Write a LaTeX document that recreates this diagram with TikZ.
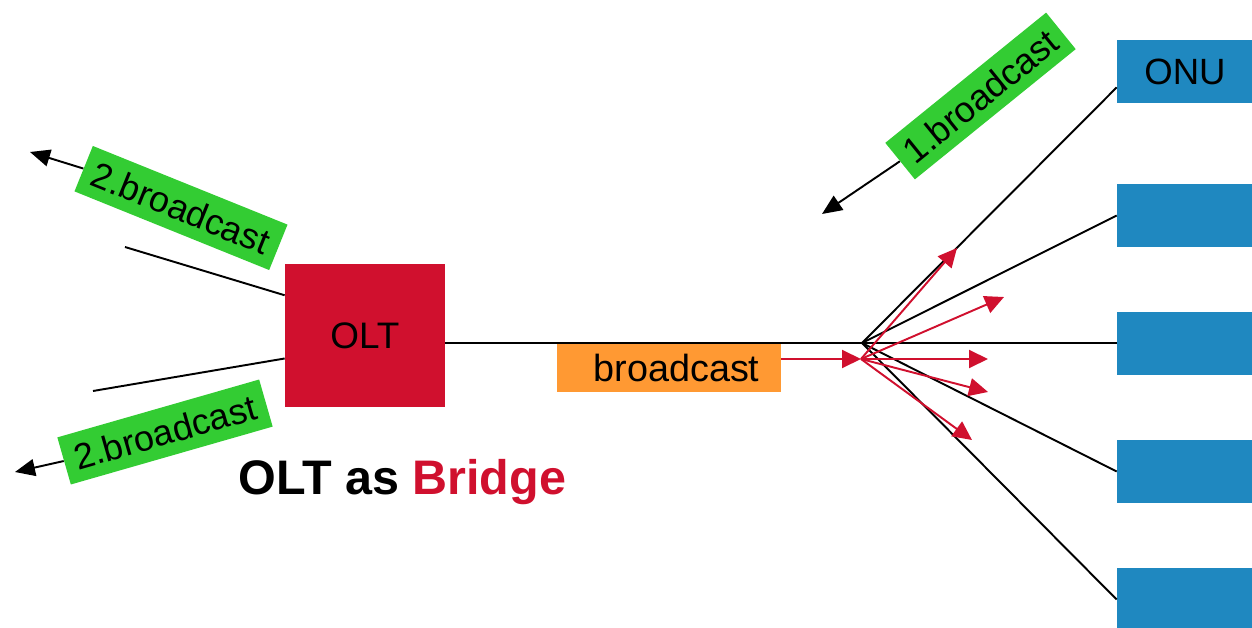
\documentclass[tikz,border=0pt]{standalone}
\usepackage{fontspec}
\setmainfont{Liberation Sans}
\usetikzlibrary{arrows.meta,calc}
\definecolor{oltred}{RGB}{208,16,46}
\definecolor{taggreen}{RGB}{51,204,51}
\definecolor{bcorange}{RGB}{255,153,51}
\definecolor{onublue}{RGB}{31,136,192}
\begin{document}
\begin{tikzpicture}[x=0.02cm,y=-0.02cm,
  wire/.style={line width=1.1pt,black},
  fanarrow/.style={line width=1.1pt,color=oltred,-{Triangle[length=0.38cm,width=0.36cm]}},
  tagarrow/.style={line width=1.1pt,black,-{Triangle[length=0.4cm,width=0.34cm]}},
  tag/.style={fill=taggreen,minimum width=4.2cm,minimum height=0.98cm,inner sep=0pt,
    font=\fontsize{20.5}{24}\selectfont},
  onu/.style={fill=onublue,minimum width=2.72cm,minimum height=1.26cm,inner sep=0pt,
    font=\fontsize{20.8}{24}\selectfont},
]
\useasboundingbox (0,0) rectangle (1252,628);

% ONUs on the right
\node[onu] (onu1) at (1185,71.5) {ONU};
\node[onu] (onu2) at (1185,215.5) {};
\node[onu] (onu3) at (1185,343.5) {};
\node[onu] (onu4) at (1185,471.5) {};
\node[onu] (onu5) at (1185,599.5) {};

% OLT
\node[fill=oltred,minimum width=3.2cm,minimum height=2.86cm,inner sep=0pt,
  font=\fontsize{21}{24}\selectfont] (olt) at (365,335.5) {OLT};

% broadcast frame
\node[fill=bcorange,minimum width=4.48cm,minimum height=0.96cm,inner sep=0pt,
  font=\fontsize{21.5}{24}\selectfont] (bc) at (669,368) {\hspace*{0.3cm}broadcast};

% splitter and fan-out points
\coordinate (sp) at (862,343);
\coordinate (fo) at (861,359);
\coordinate (l1) at (125,247);
\coordinate (l2) at (93,391);
\coordinate (f1) at (957,248);
\coordinate (f2) at (1004,297);
\coordinate (f3) at (988,359);
\coordinate (f4) at (988,392);
\coordinate (f5) at (972,440);

% fibre lines
\draw[wire] (olt.east |- sp) -- (onu3.west |- sp);
\draw[wire] (sp) -- ($(onu1.north west)!0.75!(onu1.south west)$);
\draw[wire] (sp) -- (onu2.west);
\draw[wire] (sp) -- (onu4.west);
\draw[wire] (sp) -- (onu5.west);
\draw[wire] ($(olt.north west)!0.22!(olt.south west)$) -- (l1);
\draw[wire] ($(olt.north west)!0.66!(olt.south west)$) -- (l2);

% broadcast fan-out at the splitter
\draw[fanarrow] (bc.east |- fo) -- (fo);
\foreach \f in {f1,f2,f3,f4,f5}
  \draw[fanarrow] (fo) -- (\f);

% broadcast tags
\node[tag,rotate=-22] (t2a) at (181,208) {2.broadcast};
\node[tag,rotate=16] (t2b) at (165,432) {2.broadcast};
\node[tag,rotate=39,minimum width=4.14cm,minimum height=0.94cm] (t1) at (980.5,96) {1.broadcast};

\coordinate (a2a) at (30,152);
\coordinate (a2b) at (15,472);
\coordinate (a1) at (822,214);
\draw[tagarrow] (t2a.west) -- (a2a);
\draw[tagarrow] (t2b.west) -- (a2b);
\draw[tagarrow] (t1.west) -- (a1);

% caption
\node[anchor=base west,inner sep=0pt,font=\fontsize{27.6}{32}\selectfont\bfseries] (cap)
  at (238,495) {OLT as \textcolor{oltred}{Bridge}};
\end{tikzpicture}
\end{document}
